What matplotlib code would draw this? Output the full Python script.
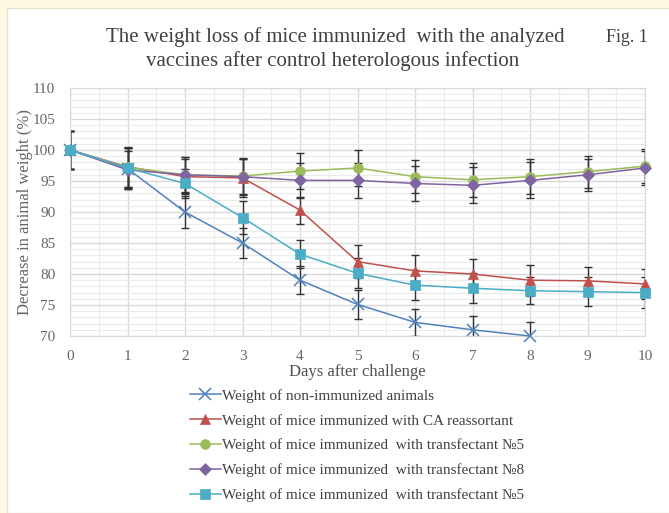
import matplotlib
matplotlib.use("Agg")
import matplotlib.pyplot as plt
from matplotlib.patches import Rectangle
from matplotlib.ticker import MultipleLocator

plt.rcParams['font.family'] = ['Liberation Serif', 'DejaVu Serif']

days = list(range(0, 11))
days_naive = list(range(0, 9))

naive = [100, 97.0, 90.0, 85.0, 79.0, 75.1, 72.2, 71.0, 70.0]
naive_err = [3.0, 3.3, 2.6, 2.5, 2.3, 2.3, 2.2, 2.2, 2.2]

ca = [100, 97.3, 95.7, 95.5, 90.3, 82.0, 80.5, 80.0, 79.0, 78.9, 78.4]
ca_err = [3.0, 3.2, 2.8, 3.0, 2.2, 2.6, 2.5, 2.4, 2.5, 2.3, 2.4]

tr5 = [100, 97.2, 96.0, 95.8, 96.6, 97.1, 95.7, 95.2, 95.7, 96.5, 97.4]
tr5_err = [3.0, 3.2, 2.9, 2.9, 2.9, 2.9, 2.7, 2.7, 2.8, 2.6, 2.8]

tr8 = [100, 96.8, 96.0, 95.7, 95.1, 95.1, 94.6, 94.3, 95.1, 96.0, 97.1]
tr8_err = [3.0, 3.1, 2.8, 2.9, 2.8, 2.8, 2.8, 2.9, 2.9, 2.6, 2.8]

tr5b = [100, 97.1, 94.6, 89.1, 83.2, 80.1, 78.2, 77.7, 77.3, 77.15, 77.0]
tr5b_err = [3.0, 3.2, 2.3, 2.6, 2.3, 2.4, 2.4, 2.4, 2.2, 2.3, 2.5]

labels = [
    'Weight of non-immunized animals',
    'Weight of mice immunized with CA reassortant',
    'Weight of mice immunized  with transfectant №5',
    'Weight of mice immunized  with transfectant №8',
    'Weight of mice immunized  with transfectant №5',
]

W, H = 669, 513
fig = plt.figure(figsize=(W / 100, H / 100), dpi=100)
fig.patch.set_facecolor('#FFF9E4')
fig.patches.append(Rectangle((7 / W, 0), 1, 1 - 8 / H, transform=fig.transFigure,
                             facecolor='white', edgecolor='#E6E2D0', lw=1,
                             zorder=-10))

ax = fig.add_axes([70 / W, 1 - 336 / H, 575 / W, 248 / H])

series = [
    (days_naive, naive, naive_err, '#4F81BD', 'x', 8, labels[0]),
    (days, ca, ca_err, '#C0504D', '^', 7.5, labels[1]),
    (days, tr5, tr5_err, '#9BBB59', 'o', 7, labels[2]),
    (days, tr8, tr8_err, '#8064A2', 'D', 6, labels[3]),
    (days, tr5b, tr5b_err, '#4BACC6', 's', 7, labels[4]),
]

for x, y, e, c, m, ms, lab in series:
    ax.errorbar(x, y, yerr=e, fmt='none', ecolor='#333333', elinewidth=1,
                capsize=3, capthick=1, zorder=2)
for x, y, e, c, m, ms, lab in series:
    mew = 1.1 if m == 'x' else 0.5
    ax.plot(x, y, color=c, lw=1.1, marker=m, ms=ms, mfc=c, mec=c, mew=mew,
            label=lab, clip_on=False, zorder=3)

ax.set_xlim(0, 10)
ax.set_ylim(70, 110)
ax.xaxis.set_major_locator(MultipleLocator(1))
ax.xaxis.set_minor_locator(MultipleLocator(0.5))
ax.yaxis.set_major_locator(MultipleLocator(5))
ax.yaxis.set_minor_locator(MultipleLocator(1))
ax.grid(which='major', color='#D9D9D9', lw=1)
ax.grid(which='minor', color='#EBEBEB', lw=0.8)
ax.set_axisbelow(True)
for s in ax.spines.values():
    s.set_color('#D9D9D9')
ax.tick_params(which='both', length=0, labelsize=11, labelcolor='#666666')
ax.tick_params(axis='x', pad=10)
ax.tick_params(axis='y', pad=10.5)

ax.set_xlabel('Days after challenge', fontsize=12, color='#505050', labelpad=1)
ax.set_ylabel('Decrease in animal weight (%)', fontsize=12, color='#666666', labelpad=0)

fig.text(335 / W, 1 - 37 / H, 'The weight loss of mice immunized  with the analyzed',
         ha='center', va='center', fontsize=15, color='#404040')
fig.text(333 / W, 1 - 61 / H, 'vaccines after control heterologous infection',
         ha='center', va='center', fontsize=15, color='#404040')
fig.text(627 / W, 1 - 38 / H, 'Fig. 1', ha='center', va='center',
         fontsize=13, color='#404040')

fig.legend(loc='upper left', bbox_to_anchor=(190 / W, 1 - 389 / H), frameon=False,
           fontsize=11, handlelength=2.0, handletextpad=0.1, labelspacing=0.72,
           borderaxespad=0, borderpad=0, labelcolor='#404040')

fig.savefig('out.png', dpi=100, facecolor=fig.get_facecolor())
